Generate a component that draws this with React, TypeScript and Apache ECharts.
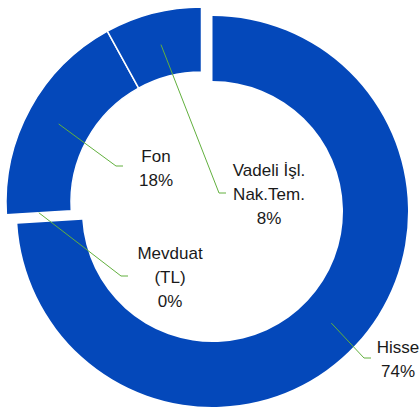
import React, { useEffect, useRef } from "react";
import * as echarts from "echarts";

const categories = ["Hisse", "Mevduat (TL)", "Fon", "Vadeli İşl. Nak.Tem."];
const labelTexts = ["Hisse", "Mevduat\n(TL)", "Fon", "Vadeli İşl.\nNak.Tem."];
const shares = [74, 0, 18, 8];

const BLUE = "#0448BA";
const GREEN = "#62b03e";
const CENTER_A = [212.5, 211.5];
const CENTER_B = [201.5, 202.5];
const R_IN = 130.5;
const R_OUT = 195.5;
// label block centres and leader-line end points (layout only)
const labelPos = [
  [398, 359],
  [170, 277],
  [156, 168],
  [269, 194],
];
const leaderEnd = [
  [371, 358],
  [128, 276],
  [123, 166],
  [226, 193],
];

export default function App() {
  const ref = useRef<HTMLDivElement>(null);
  useEffect(() => {
    document.body.style.margin = "0";
    const chart = echarts.init(ref.current!, null, { renderer: "svg" });
    const rest = shares.slice(1).reduce((a, b) => a + b, 0);
    const hidden = {
      itemStyle: { color: "rgba(0,0,0,0)", borderWidth: 0 },
      label: { show: false },
      labelLine: { show: false },
    };
    const layout = (params: any) => {
      const i = params.dataIndex;
      const midR = (R_IN + R_OUT) / 2;
      const c = i === 0 ? CENTER_A : CENTER_B;
      let start: number[] = [c[0], c[1]];
      const p0 = params.labelLinePoints && params.labelLinePoints[0];
      if (p0) {
        const dx = p0[0] - CENTER_B[0];
        const dy = p0[1] - CENTER_B[1];
        const len = Math.sqrt(dx * dx + dy * dy) || 1;
        start = [c[0] + (dx / len) * midR, c[1] + (dy / len) * midR];
      }
      const end = leaderEnd[i];
      return {
        x: labelPos[i][0],
        y: labelPos[i][1],
        align: "center",
        verticalAlign: "middle",
        labelLinePoints: [start, [end[0] - 7, end[1]], end],
      };
    };
    chart.setOption({
      animation: false,
      series: [
        {
          type: "pie",
          z: 2,
          center: CENTER_A,
          radius: [R_IN, R_OUT],
          startAngle: 90,
          clockwise: true,
          silent: true,
          label: { show: false },
          labelLine: { show: false },
          data: [
            { name: categories[0], value: shares[0], itemStyle: { color: BLUE } },
            { name: "_rest", value: rest, ...hidden },
          ],
        },
        {
          type: "pie",
          z: 2,
          center: CENTER_B,
          radius: [R_IN, R_OUT],
          startAngle: 90,
          clockwise: true,
          silent: true,
          label: { show: false },
          labelLine: { show: false },
          data: [
            { name: "_hisse", value: shares[0], ...hidden },
            ...shares.slice(1).map((v, j) => ({
              name: categories[j + 1],
              value: v,
              itemStyle: {
                color: BLUE,
                borderColor: "#ffffff",
                borderWidth: v === 0 ? 0 : 1.5,
              },
            })),
          ],
        },
        {
          // label layer drawn above the ring
          type: "pie",
          z: 5,
          center: CENTER_B,
          radius: [R_IN, R_OUT],
          startAngle: 90,
          clockwise: true,
          silent: true,
          avoidLabelOverlap: false,
          itemStyle: { color: "rgba(0,0,0,0)", borderWidth: 0 },
          label: {
            show: true,
            position: "outside",
            fontFamily: "Liberation Sans",
            fontSize: 17,
            lineHeight: 24,
            color: "#1a1a1a",
            align: "center",
            formatter: (p: any) => `${labelTexts[p.dataIndex]}\n${p.value}%`,
          },
          labelLine: { show: true, lineStyle: { color: GREEN, width: 1 } },
          labelLayout: layout,
          data: shares.map((v, i) => ({ name: categories[i], value: v })),
        },
      ],
    });
    return () => chart.dispose();
  }, []);
  return <div ref={ref} style={{ width: 420, height: 412 }} />;
}
